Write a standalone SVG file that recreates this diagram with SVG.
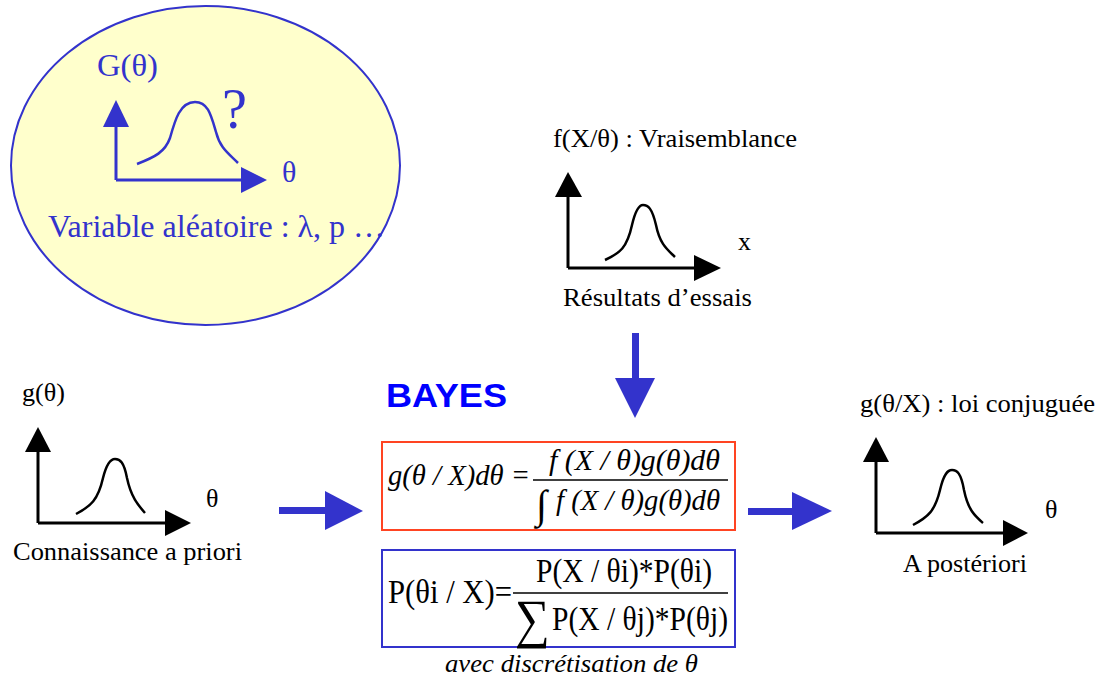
<svg xmlns="http://www.w3.org/2000/svg" width="1100" height="676" viewBox="0 0 1100 676">
<style>
.serif{font-family:"Liberation Serif","Times New Roman",serif;}
.lbl{font-family:"Liberation Serif","Times New Roman",serif;font-size:26px;fill:#000;}
.blue{fill:#3333CC;}
.axisK{stroke:#000;stroke-width:3;fill:none;}
.curveK{stroke:#000;stroke-width:2.5;fill:none;}
.axisB{stroke:#3333CC;stroke-width:3;fill:none;}
.curveB{stroke:#3333CC;stroke-width:2.5;fill:none;}
.math{font-family:"Liberation Serif","Times New Roman",serif;fill:#000;}
</style>
<rect width="1100" height="676" fill="#fff"/>

<g id="prior-unknown">
  <ellipse cx="205.5" cy="165.5" rx="194.5" ry="159.5" fill="#FFFFCC" stroke="#3333CC" stroke-width="2"/>
  <line class="axisB" x1="116" y1="125" x2="116" y2="180"/>
  <line class="axisB" x1="116" y1="180" x2="243" y2="180"/>
  <polygon class="blue" points="116,100 103,127 129,127"/>
  <polygon class="blue" points="241,167 267,180 241,193"/>
  <path class="curveB" d="M137,164 C155,157 165,152 170,138 C175,120 180,102 195,102 C208,102 211,115 216,132 C220,148 228,153 238,163"/>
  <text class="serif blue" x="97" y="76" font-size="31" textLength="61" lengthAdjust="spacingAndGlyphs">G(θ)</text>
  <text class="serif blue" x="222" y="128" font-size="58" textLength="25" lengthAdjust="spacingAndGlyphs">?</text>
  <text class="serif blue" x="282" y="182" font-size="30">θ</text>
  <text class="serif blue" x="48" y="237" font-size="31" textLength="337" lengthAdjust="spacingAndGlyphs">Variable aléatoire : λ, p …</text>
</g>

<g id="likelihood">
  <text class="lbl" x="553" y="147" textLength="244" lengthAdjust="spacingAndGlyphs">f(X/θ) : Vraisemblance</text>
  <line class="axisK" x1="568" y1="195" x2="568" y2="268"/>
  <line class="axisK" x1="568" y1="268" x2="696" y2="268"/>
  <polygon points="568,172 555,197 582,197" fill="#000"/>
  <polygon points="694,255 721,268 694,281" fill="#000"/>
  <path class="curveK" d="M605,260 C620,253 627,248 632,225 C636,208 640,205 643,205 C648,205 652,208 656,225 C660,245 668,250 675,257"/>
  <text class="lbl" x="738" y="250">x</text>
  <text class="lbl" x="563" y="306" textLength="189" lengthAdjust="spacingAndGlyphs">Résultats d’essais</text>
</g>

<g id="prior">
  <text class="lbl" x="22" y="401" textLength="43" lengthAdjust="spacingAndGlyphs">g(θ)</text>
  <line class="axisK" x1="38" y1="450" x2="38" y2="523"/>
  <line class="axisK" x1="38" y1="523" x2="167" y2="523"/>
  <polygon points="38,427 25,452 51,452" fill="#000"/>
  <polygon points="165,510 191,523 165,536" fill="#000"/>
  <path class="curveK" d="M76,514 C91,506 98,500 103,478 C107,462 111,459 115,459 C120,459 124,462 127,478 C131,497 138,505 145,513"/>
  <text class="lbl" x="206" y="507">θ</text>
  <text class="lbl" x="13" y="560" textLength="229" lengthAdjust="spacingAndGlyphs">Connaissance a priori</text>
</g>

<g id="bayes">
  <text x="386" y="407" font-family="Liberation Sans, Arial, sans-serif" font-weight="bold" font-size="34" fill="#0000FF" textLength="121" lengthAdjust="spacingAndGlyphs">BAYES</text>
</g>

<g id="formula-continuous">
  <rect x="382" y="442" width="353" height="88" fill="#fff" stroke="#FF4422" stroke-width="2"/>
  <text class="math" x="388" y="485" font-size="29" font-style="italic" textLength="142" lengthAdjust="spacingAndGlyphs">g(θ / X)dθ =</text>
  <text class="math" x="549" y="470" font-size="29" font-style="italic" textLength="171" lengthAdjust="spacingAndGlyphs">f (X / θ)g(θ)dθ</text>
  <line x1="533" y1="480" x2="728" y2="480" stroke="#000" stroke-width="1.5"/>
  <text class="math" x="536" y="518" font-size="40">∫</text>
  <text class="math" x="556" y="510" font-size="29" font-style="italic" textLength="164" lengthAdjust="spacingAndGlyphs">f (X / θ)g(θ)dθ</text>
</g>

<g id="formula-discrete">
  <rect x="382" y="550" width="353" height="97" fill="#fff" stroke="#3333CC" stroke-width="2"/>
  <text class="math" x="388" y="603" font-size="34" textLength="124" lengthAdjust="spacingAndGlyphs">P(θi / X)=</text>
  <text class="math" x="536" y="582" font-size="34" textLength="176" lengthAdjust="spacingAndGlyphs">P(X / θi)*P(θi)</text>
  <line x1="513" y1="593" x2="728" y2="593" stroke="#000" stroke-width="1.5"/>
  <text class="math" x="515" y="637" font-size="54" textLength="35" lengthAdjust="spacingAndGlyphs">∑</text>
  <text class="math" x="552" y="630" font-size="34" textLength="176" lengthAdjust="spacingAndGlyphs">P(X / θj)*P(θj)</text>
  <text class="math" x="445" y="672" font-size="25" font-style="italic" textLength="253" lengthAdjust="spacingAndGlyphs">avec discrétisation de θ</text>
</g>

<g id="posterior">
  <text class="lbl" x="860" y="412" textLength="235" lengthAdjust="spacingAndGlyphs">g(θ/X) : loi conjuguée</text>
  <line class="axisK" x1="876" y1="460" x2="876" y2="533"/>
  <line class="axisK" x1="876" y1="533" x2="1005" y2="533"/>
  <polygon points="876,437 863,462 889,462" fill="#000"/>
  <polygon points="1003,520 1028,533 1003,546" fill="#000"/>
  <path class="curveK" d="M913,525 C928,517 935,511 940,490 C944,473 948,470 952,470 C957,470 961,473 964,490 C968,510 975,516 983,523"/>
  <text class="lbl" x="1045" y="518">θ</text>
  <text class="lbl" x="903" y="572" textLength="124" lengthAdjust="spacingAndGlyphs">A postériori</text>
</g>

<g id="connectors">
  <rect class="blue" x="632" y="333" width="7" height="46"/>
  <polygon class="blue" points="615,378 655,378 635,418"/>
  <rect class="blue" x="279" y="507" width="47" height="7"/>
  <polygon class="blue" points="325,491 363,511 325,530"/>
  <rect class="blue" x="748" y="508" width="45" height="7"/>
  <polygon class="blue" points="792,492 832,511 792,530"/>
</g>
</svg>
